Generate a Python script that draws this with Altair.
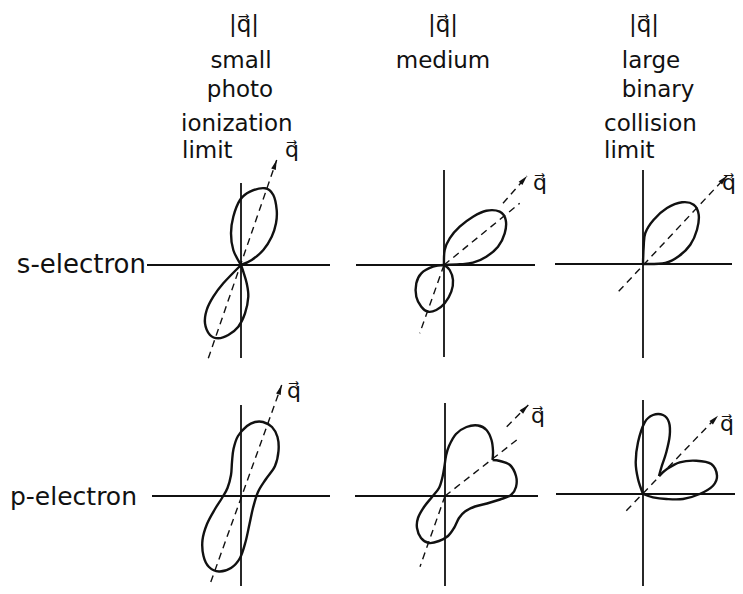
import math
import altair as alt
import pandas as pd

# ---------------- panel layout (image pixel coordinates) ----------------
PANELS = ["s_small", "s_medium", "s_large", "p_small", "p_medium", "p_large"]
ORIGIN_X = [241, 444, 643, 241, 445, 643]
ORIGIN_Y = [265, 265, 264, 496, 496, 494]
AXIS_LEFT = [94, 88, 88, 89, 90, 87]
AXIS_RIGHT = [89, 91, 89, 89, 93, 92]
AXIS_UP = [82, 95, 94, 91, 93, 94]
AXIS_DOWN = [93, 92, 94, 92, 94, 94]

# ---------------- angular distributions (offsets from origin, y up) ----------------
# s-electron, small |q|
S_SMALL_UP_DX = [0, -7.7, -10, -7.7, -1, 9, 24, 32.3, 35.7, 35, 30.7, 22.3, 10.7, 0]
S_SMALL_UP_DY = [0, 15, 31.7, 48.3, 65, 73.3, 76.7, 70, 55, 41.7, 28.3, 15, 5, 0]
S_SMALL_DN_DX = [0, -17.7, -27.7, -34.3, -36, -31, -22.7, -12.7, -2.7, 4, 7.3, 5.7, 2.3, 0]
S_SMALL_DN_DY = [0, -18.3, -31.7, -45, -58.3, -70, -73.3, -70, -61.7, -48.3, -31.7, -18.3, -6.7, 0]
# s-electron, medium |q|
S_MED_UP_DX = [0, 0.7, 5.7, 15.7, 29, 42.3, 55.7, 61.7, 60.7, 54, 42.3, 29, 15.7, 0]
S_MED_UP_DY = [0, 15, 26.7, 38.3, 48.3, 54.3, 53.3, 45, 31.7, 18.3, 8.3, 2.3, 0.7, 0]
S_MED_DN_DX = [0, -11, -22.7, -27.7, -27.7, -22.7, -16, -7.7, 0.7, 7.3, 9, 5.7, 0]
S_MED_DN_DY = [0, -1.7, -8.3, -18.3, -31.7, -41.7, -46.7, -45, -38.3, -26.7, -15, -5, 0]
# s-electron, large |q|
S_LARGE_DX = [0, 0.7, 2.3, 10.7, 24, 39, 50.7, 55.7, 54, 47.3, 35.7, 22.3, 0]
S_LARGE_DY = [0, 17.6, 31, 44.3, 56, 61.7, 59.3, 49.3, 34.3, 19.3, 7.7, 1, 0]
# p-electron, small |q| (closed outline)
P_SMALL_DX = [22, 31, 36.5, 37.5, 34, 25, 17, 12, 8.5, 4.5, -1, -10, -22, -32, -37.5, -38.5,
              -34, -26, -19, -13.5, -10, -9, -7.5, -3, 6, 14]
P_SMALL_DY = [74, 69, 59, 45, 30, 17, 4, -12, -28, -46, -62, -72, -75.5, -71, -60, -44,
              -28, -13, -2, 8, 21, 34, 47, 60, 70, 74]
# p-electron, medium |q| (starts and ends at the notch)
P_MED_DX = [47.5, 55, 65, 71, 71, 66, 55, 42, 30, 20, 14, 9, 3, -6, -16, -24, -28, -27, -21,
            -13, -6, -2.5, -0.5, 1, 4, 11, 21.5, 33, 41.5, 46.5, 48, 47.5]
P_MED_DY = [36, 35, 31, 20, 9, 1, -3.5, -7.5, -10.5, -15.5, -22, -32, -40, -45, -47, -42, -32,
            -22, -11, -1, 8, 19, 30, 40, 50, 62, 69, 70.5, 66, 56, 45, 36]
# p-electron, large |q| (two lobes meeting at a cusp)
P_LARGE_A_DX = [0, -5, -7.3, -5, 1.7, 10, 20, 26, 26.7, 23.3, 18.5, 16]
P_LARGE_A_DY = [0, 15, 31.7, 51.7, 71.7, 79, 79, 71.7, 58.3, 41.7, 27, 18]
P_LARGE_B_DX = [16, 24, 36.7, 53.3, 68.3, 74, 70, 56.7, 40, 23.3, 10, 0]
P_LARGE_B_DY = [18, 25, 31.7, 33.3, 30, 18.3, 8.3, 0, -5, -5, -3.3, 0]

CURVES = [  # (panel index, closed?, dx, dy)
    (0, False, S_SMALL_UP_DX, S_SMALL_UP_DY),
    (0, False, S_SMALL_DN_DX, S_SMALL_DN_DY),
    (1, False, S_MED_UP_DX, S_MED_UP_DY),
    (1, False, S_MED_DN_DX, S_MED_DN_DY),
    (2, False, S_LARGE_DX, S_LARGE_DY),
    (3, True, P_SMALL_DX, P_SMALL_DY),
    (4, False, P_MED_DX, P_MED_DY),
    (5, False, P_LARGE_A_DX, P_LARGE_A_DY),
    (5, False, P_LARGE_B_DX, P_LARGE_B_DY),
]

# ---------------- q direction (dashed) segments ----------------
Q_PANEL = [0, 1, 1, 1, 2, 3, 4, 4, 4, 5]
Q_DX1 = [-32.7, 0, 0, 59, -24.3, -34.3, 0, 0, 61.7, -16.7]
Q_DY1 = [-93.3, 0, 0, 61.7, -27.3, -97.3, 0, 0, 69.3, -16.7]
Q_DX2 = [35.7, -24.3, 75.7, 83, 84, 40.7, -25, 71.7, 83.3, 75]
Q_DY2 = [105, -68.3, 61.7, 89, 88.3, 111, -70.7, 56, 91, 78.3]
Q_ARROW = [True, False, False, True, True, True, False, False, True, True]

# ---------------- texts ----------------
QV = "q\u20d7"
COL_TEXT = ["|" + QV + "|", "small", "photo", "|" + QV + "|", "medium", "|" + QV + "|", "large", "binary"]
COL_TX = [244, 241, 240, 443, 443, 644, 651, 658]
COL_TY = [32, 68, 97, 32, 68, 32, 68, 97]
COL_LEFT_TEXT = ["ionization", "limit", "collision", "limit"]
COL_LEFT_TX = [181, 182, 604, 604]
COL_LEFT_TY = [131, 158, 131, 158]
ROW_TEXT = ["s-electron", "p-electron"]
ROW_TX = [146, 137]
ROW_TY = [273, 505]
ROW_SIZE = [26, 25]
QLAB_X = [292, 540, 729, 294, 538, 727]
QLAB_Y = [157, 190, 190, 398, 423, 431]

# ---------------- build tables ----------------
axes_rows = []
for i in range(len(PANELS)):
    ox, oy = ORIGIN_X[i], ORIGIN_Y[i]
    axes_rows.append(dict(x=ox - AXIS_LEFT[i], x2=ox + AXIS_RIGHT[i], y=oy, y2=oy))
    axes_rows.append(dict(x=ox, x2=ox, y=oy - AXIS_UP[i], y2=oy + AXIS_DOWN[i]))
axes_df = pd.DataFrame(axes_rows)

open_rows, closed_rows = [], []
for cid, (p, closed, dxs, dys) in enumerate(CURVES):
    for k, (dx, dy) in enumerate(zip(dxs, dys)):
        row = dict(curve=cid, k=k, x=ORIGIN_X[p] + dx, y=ORIGIN_Y[p] - dy)
        (closed_rows if closed else open_rows).append(row)
open_df = pd.DataFrame(open_rows)
closed_df = pd.DataFrame(closed_rows)

q_rows, head_rows = [], []
for j, p in enumerate(Q_PANEL):
    ox, oy = ORIGIN_X[p], ORIGIN_Y[p]
    q_rows.append(dict(x=ox + Q_DX1[j], y=oy - Q_DY1[j], x2=ox + Q_DX2[j], y2=oy - Q_DY2[j]))
    if Q_ARROW[j]:
        th = math.degrees(math.atan2(Q_DY2[j] - Q_DY1[j], Q_DX2[j] - Q_DX1[j]))
        head_rows.append(dict(x=ox + Q_DX2[j], y=oy - Q_DY2[j], rot=90 - th))
q_df = pd.DataFrame(q_rows)
head_df = pd.DataFrame(head_rows)

col_df = pd.DataFrame(dict(x=COL_TX, y=COL_TY, t=COL_TEXT))
col_left_df = pd.DataFrame(dict(x=COL_LEFT_TX, y=COL_LEFT_TY, t=COL_LEFT_TEXT))
row_df = pd.DataFrame(dict(x=ROW_TX, y=ROW_TY, t=ROW_TEXT, s=ROW_SIZE))
qlab_df = pd.DataFrame(dict(x=QLAB_X, y=QLAB_Y, t=[QV] * len(QLAB_X)))

# ---------------- chart ----------------
X = alt.X("x:Q", scale=alt.Scale(domain=[8, 735], nice=False, zero=False), axis=None)
Y = alt.Y("y:Q", scale=alt.Scale(domain=[8, 586], reverse=True, nice=False, zero=False), axis=None)
FONT = "DejaVu Sans"
INK = "#111111"

axes = alt.Chart(axes_df).mark_rule(color=INK, strokeWidth=1.8).encode(x=X, x2="x2:Q", y=Y, y2="y2:Q")
qlines = alt.Chart(q_df).mark_rule(color=INK, strokeWidth=1.4, strokeDash=[7, 5]).encode(
    x=X, x2="x2:Q", y=Y, y2="y2:Q")
heads = alt.Chart(head_df).mark_point(
    shape="M0,0L1,4L-1,4Z", filled=True, size=24, color=INK, opacity=1
).encode(x=X, y=Y, angle=alt.Angle("rot:Q", scale=None))
open_lines = alt.Chart(open_df).mark_line(
    interpolate="cardinal", color=INK, strokeWidth=2.4
).encode(x=X, y=Y, detail="curve:N", order="k:Q")
closed_lines = alt.Chart(closed_df).mark_line(
    interpolate="cardinal-closed", color=INK, strokeWidth=2.4
).encode(x=X, y=Y, detail="curve:N", order="k:Q")

col_text = alt.Chart(col_df).mark_text(
    font=FONT, fontSize=23, align="center", baseline="alphabetic", color=INK
).encode(x=X, y=Y, text="t:N")
col_left_text = alt.Chart(col_left_df).mark_text(
    font=FONT, fontSize=23, align="left", baseline="alphabetic", color=INK
).encode(x=X, y=Y, text="t:N")
row_text = alt.Chart(row_df).mark_text(
    font=FONT, align="right", baseline="alphabetic", color=INK
).encode(x=X, y=Y, text="t:N", size=alt.Size("s:Q", scale=None, legend=None))
qlab_text = alt.Chart(qlab_df).mark_text(
    font=FONT, fontSize=22, align="center", baseline="alphabetic", color=INK
).encode(x=X, y=Y, text="t:N")

chart = alt.layer(
    axes, qlines, open_lines, closed_lines, heads, col_text, col_left_text, row_text, qlab_text
).properties(
    width=727, height=578, autosize="none", padding=0, background="white"
).configure_view(stroke=None)

chart.save("out.html", embed_options={"renderer": "svg", "actions": False})
